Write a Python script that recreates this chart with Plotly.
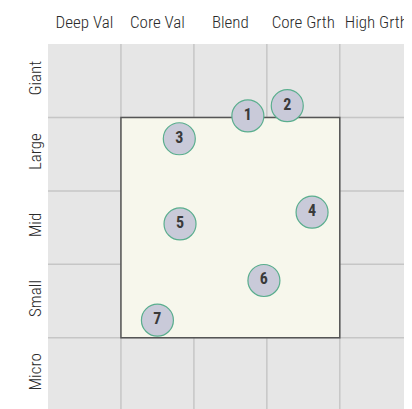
import plotly.graph_objects as go

col_labels = ["Deep Val", "Core Val", "Blend", "Core Grth", "High Grth"]
row_labels = ["Micro", "Small", "Mid", "Large", "Giant"]
ids = ["1", "2", "3", "4", "5", "6", "7"]
style_x = [2.74, 3.28, 1.80, 3.62, 1.81, 2.96, 1.50]
size_y = [4.02, 4.16, 3.71, 2.71, 2.55, 1.78, 1.24]
box_x = [1, 4]
box_y = [1, 4]

FONT = "Roboto Condensed, Liberation Sans Narrow, sans-serif"

fig = go.Figure()
fig.add_trace(go.Scatter(
    x=style_x, y=size_y, mode="markers+text", text=ids,
    textposition="middle center",
    textfont=dict(family=FONT, size=16, color="#3a3a3a", weight="bold"),
    marker=dict(size=32, color="#c9cad9", line=dict(color="#5aae8e", width=1.2)),
    hoverinfo="skip", showlegend=False, cliponaxis=False,
))

shapes = []
shapes.append(dict(type="rect", xref="x", yref="y", x0=box_x[0], x1=box_x[1],
                   y0=box_y[0], y1=box_y[1], fillcolor="#f7f7ec",
                   line=dict(width=0), layer="below"))
for v in [1, 2, 3, 4]:
    shapes.append(dict(type="line", xref="x", yref="paper", x0=v, x1=v, y0=0, y1=1,
                       line=dict(color="rgba(160,160,160,0.45)", width=1.5), layer="below"))
    shapes.append(dict(type="line", xref="paper", yref="y", x0=0, x1=1, y0=v, y1=v,
                       line=dict(color="rgba(160,160,160,0.45)", width=1.5), layer="below"))
shapes.append(dict(type="rect", xref="x", yref="y", x0=box_x[0], x1=box_x[1],
                   y0=box_y[0], y1=box_y[1], fillcolor="rgba(0,0,0,0)",
                   line=dict(color="#555555", width=1.5), layer="below"))

fig.update_layout(
    width=404, height=401,
    margin=dict(l=40, r=0, t=36, b=0),
    paper_bgcolor="white", plot_bgcolor="#e6e6e6",
    shapes=shapes,
    xaxis=dict(range=[0, 4.99], showgrid=False, zeroline=False, side="top",
               tickvals=[0.5, 1.5, 2.5, 3.5, 4.5], ticktext=col_labels,
               ticks="", ticklabelstandoff=12, automargin=False,
               tickfont=dict(family=FONT, size=17, color="#2a2a2a", weight=300), fixedrange=True),
    yaxis=dict(range=[0.03, 5.0], showgrid=False, zeroline=False,
               tickvals=[0.5, 1.5, 2.5, 3.5, 4.5], ticktext=row_labels,
               tickangle=-90, ticks="", ticklabelstandoff=3, automargin=False,
               tickfont=dict(family=FONT, size=17, color="#2a2a2a", weight=300), fixedrange=True),
)

fig.write_html("out.html")
